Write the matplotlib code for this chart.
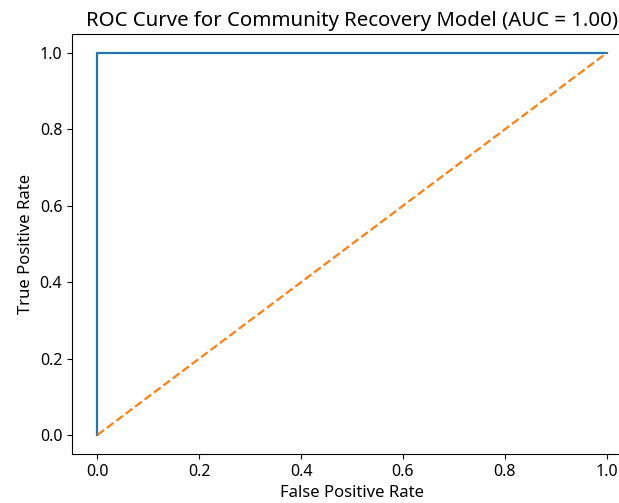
import matplotlib
matplotlib.use("Agg")
import matplotlib.pyplot as plt

plt.rcParams['font.family'] = ['Noto Sans', 'DejaVu Sans']

fpr = [0.0, 0.0, 1.0]
tpr = [0.0, 1.0, 1.0]
diag_x = [0.0, 1.0]
diag_y = [0.0, 1.0]
auc_value = 1.00

fig = plt.figure(figsize=(6.19, 5.03), dpi=100)
ax = fig.add_axes([72/619, 49/503, 560/619, 420/503])
ax.plot(fpr, tpr, color="#1f77b4", linewidth=1.6)
ax.plot(diag_x, diag_y, color="#ff7f0e", linestyle="--", linewidth=1.6)
ax.set_title(f"ROC Curve for Community Recovery Model (AUC = {auc_value:.2f})", fontsize=14.7)
ax.set_xlabel("False Positive Rate", fontsize=12)
ax.set_ylabel("True Positive Rate", fontsize=12)
ax.tick_params(labelsize=11.5)
fig.savefig("out.png", dpi=100)
